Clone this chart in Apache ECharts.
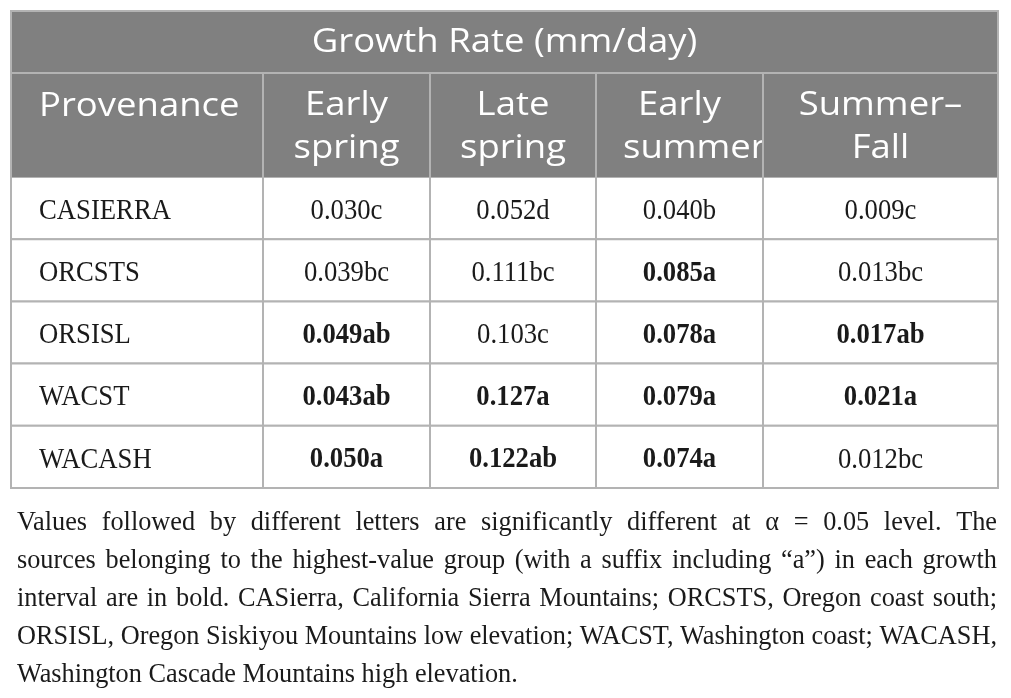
<!DOCTYPE html>
<html>
<head>
<meta charset="utf-8">
<script src="https://cdn.jsdelivr.net/npm/echarts@6/dist/echarts.min.js"></script>
<style>
  html, body { margin: 0; padding: 0; background: #fff; }
  #main { width: 1011px; height: 698px; }
</style>
</head>
<body>
<div id="main"></div>
<script>
// table content
const provenances = ['CASIERRA', 'ORCSTS', 'ORSISL', 'WACST', 'WACASH'];
const earlySpring = [0.030, 0.039, 0.049, 0.043, 0.050];
const earlySpringGroup = ['c', 'bc', 'ab', 'ab', 'a'];
const lateSpring = [0.052, 0.111, 0.103, 0.127, 0.122];
const lateSpringGroup = ['d', 'bc', 'c', 'a', 'ab'];
const earlySummer = [0.040, 0.085, 0.078, 0.079, 0.074];
const earlySummerGroup = ['b', 'a', 'a', 'a', 'a'];
const summerFall = [0.009, 0.013, 0.017, 0.021, 0.012];
const summerFallGroup = ['c', 'bc', 'ab', 'a', 'bc'];

const tableTitle = 'Growth Rate (mm/day)';
const columnHeads = [['Provenance'], ['Early', 'spring'], ['Late', 'spring'], ['Early', 'summer'], ['Summer\u2013', 'Fall']];

const captionLines = [
  'Values followed by different letters are significantly different at \u03b1 = 0.05 level. The',
  'sources belonging to the highest-value group (with a suffix including \u201ca\u201d) in each growth',
  'interval are in bold. CASierra, California Sierra Mountains; ORCSTS, Oregon coast south;',
  'ORSISL, Oregon Siskiyou Mountains low elevation; WACST, Washington coast; WACASH,',
  'Washington Cascade Mountains high elevation.'
];

// layout
const L = 11, R = 998, T = 11;
const headLine = 73, headBottom = 177, tableBottom = 488;
const colEdges = [0, 252, 419, 585, 752, 987];   // relative to L
const lineColor = '#b3b3b3';
const headFill = '#808080';
const sansFont = '"Open Sans"';
const serifFont = '"Liberation Serif"';

const valueCols = [earlySpring, lateSpring, earlySummer, summerFall];
const groupCols = [earlySpringGroup, lateSpringGroup, earlySummerGroup, summerFallGroup];

const cells = [];
provenances.forEach(function (p, r) {
  cells.push({ value: [0, r], label: p, bold: false });
  valueCols.forEach(function (vals, c) {
    const g = groupCols[c][r];
    cells.push({ value: [c + 1, r], label: vals[r].toFixed(3) + g, bold: g.indexOf('a') >= 0 });
  });
});

// header graphics
const graphics = [];
graphics.push({ type: 'rect', z: 10, shape: { x: L, y: T, width: R - L, height: headBottom - T }, style: { fill: headFill } });

function headText(str, x, y, align, z) {
  return {
    type: 'text', z: z || 20, x: x, y: y, scaleX: 1.14,
    style: { text: str, x: 0, y: 0, align: align, verticalAlign: 'middle', font: '32px ' + sansFont, fill: '#fff' }
  };
}
graphics.push(headText(tableTitle, (L + R) / 2, 43, 'center'));

const line1 = 106, line2 = 149;
graphics.push(headText(columnHeads[0][0], L + 28, 107, 'left'));
for (let c = 1; c < columnHeads.length; c++) {
  const cx = L + (colEdges[c] + colEdges[c + 1]) / 2;
  const top = c === 4 ? 40 : 20;
  graphics.push(headText(columnHeads[c][0], cx, line1, 'center', top));
  if (c === 3) {
    // runs over into the next cell in the original
    graphics.push(headText(columnHeads[c][1], L + 612, line2, 'left'));
  } else {
    graphics.push(headText(columnHeads[c][1], cx, line2, 'center', top));
  }
}
// cover the overflow of "summer"
graphics.push({ type: 'rect', z: 30, shape: { x: L + colEdges[4] + 1, y: headLine + 1, width: colEdges[5] - colEdges[4] - 1, height: headBottom - headLine - 1 }, style: { fill: headFill } });

graphics.push({ type: 'line', z: 50, shape: { x1: L, y1: headLine, x2: R, y2: headLine }, style: { stroke: lineColor, lineWidth: 2 } });
for (let c = 1; c < colEdges.length - 1; c++) {
  graphics.push({ type: 'line', z: 50, shape: { x1: L + colEdges[c], y1: headLine, x2: L + colEdges[c], y2: headBottom }, style: { stroke: lineColor, lineWidth: 2 } });
}
graphics.push({ type: 'rect', z: 60, shape: { x: L, y: T, width: R - L, height: tableBottom - T }, style: { fill: null, stroke: lineColor, lineWidth: 2 } });

// caption, justified like the original
const capFontSize = 27;
const capFont = capFontSize + 'px ' + serifFont;
const ctx = document.createElement('canvas').getContext('2d');
ctx.font = capFont;
const capLeft = 17, capRight = 997, capWidth = capRight - capLeft;
const spaceW = ctx.measureText(' ').width;
const naturalW = captionLines.map(function (s) { return ctx.measureText(s).width; });
let capScale = capWidth / naturalW[3];
capScale = Math.max(0.8, Math.min(1.05, capScale));
const capBase = 523, capStep = 38;
captionLines.forEach(function (lineStr, i) {
  const words = lineStr.split(' ');
  const widths = words.map(function (w) { return ctx.measureText(w).width * capScale; });
  const total = widths.reduce(function (a, b) { return a + b; }, 0);
  const last = i === captionLines.length - 1;
  const gap = last ? spaceW * capScale : (capWidth - total) / (words.length - 1);
  let x = capLeft;
  words.forEach(function (w, k) {
    graphics.push({
      type: 'text', z: 20, x: x, y: capBase + i * capStep, scaleX: capScale,
      style: { text: w, x: 0, y: 0, align: 'left', verticalAlign: 'middle', font: capFont, fill: '#1a1a1a' }
    });
    x += widths[k] + gap;
  });
});

const chart = echarts.init(document.getElementById('main'));
chart.setOption({
  animation: false,
  backgroundColor: '#fff',
  grid: { left: L, right: 1011 - R, top: headBottom, bottom: 698 - tableBottom },
  xAxis: { type: 'value', min: 0, max: colEdges[colEdges.length - 1], show: false },
  yAxis: { type: 'category', data: provenances, inverse: true, show: false },
  graphic: graphics,
  series: [{
    type: 'custom',
    encode: { x: 0, y: 1 },
    data: cells,
    renderItem: function (params, api) {
      const c = api.value(0);
      const r = api.value(1);
      const cell = cells[params.dataIndex];
      const x0 = api.coord([colEdges[c], r])[0];
      const x1 = api.coord([colEdges[c + 1], r])[0];
      const yc = api.coord([0, r])[1];
      const h = api.size([0, 1])[1];
      const isName = c === 0;
      return {
        type: 'group',
        children: [
          { type: 'rect', shape: { x: x0, y: yc - h / 2, width: x1 - x0, height: h }, style: { fill: '#fff', stroke: lineColor, lineWidth: 2 } },
          {
            type: 'text', x: isName ? x0 + 28 : (x0 + x1) / 2, y: yc + 3, scaleX: 0.92,
            style: {
              text: cell.label, x: 0, y: 0,
              align: isName ? 'left' : 'center', verticalAlign: 'middle',
              font: (cell.bold ? 'bold ' : '') + '29px ' + serifFont, fill: '#1a1a1a'
            }
          }
        ]
      };
    }
  }]
});
</script>
</body>
</html>
